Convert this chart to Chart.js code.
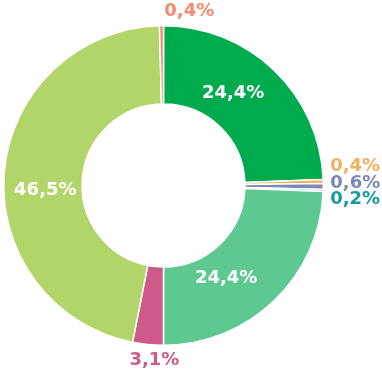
<!DOCTYPE html>
<html>
<head>
<meta charset="utf-8">
<script src="https://cdn.jsdelivr.net/npm/chart.js@4"></script>
<style>
  html, body { margin: 0; padding: 0; background: #fff; }
  #wrap { width: 382px; height: 372px; }
</style>
</head>
<body>
<div id="wrap"><canvas id="share-chart"></canvas></div>
<script>
// SHARE DOUGHNUT
const labels = ["A", "B", "C", "D", "E", "F", "G", "H"];
const shares = [24.4, 0.4, 0.6, 0.2, 24.4, 3.1, 46.5, 0.4];
const sliceColors = ["#00ab4e", "#f2b05e", "#7b88b8", "#17999f", "#5dc88f", "#ce5a8a", "#b2d56a", "#f48b70"];
const shareText = ["24,4%", "0,4%", "0,6%", "0,2%", "24,4%", "3,1%", "46,5%", "0,4%"];

// label placement: inside the ring or outside, with a small nudge
const labelPlace = [
    { inside: true, dx: -14, dy: -7 },
    { inside: false, dx: 16, dy: -17 },
    { inside: false, dx: 16, dy: -5 },
    { inside: false, dx: 16, dy: 6 },
    { inside: true, dx: -21, dy: 4 },
    { inside: false, dx: 8, dy: -2 },
    { inside: true, dx: 2, dy: 13 },
    { inside: false, dx: 28, dy: 0 }
];

const sliceLabels = {
    id: "sliceLabels",
    afterDatasetsDraw(chart) {
        const ctx = chart.ctx;
        const arcs = chart.getDatasetMeta(0).data;
        ctx.save();
        ctx.font = "bold 18px 'DejaVu Sans'";
        ctx.textAlign = "center";
        ctx.textBaseline = "alphabetic";
        arcs.forEach(function (arc, i) {
            const p = arc.getProps(["x", "y", "startAngle", "endAngle", "innerRadius", "outerRadius"], true);
            const mid = (p.startAngle + p.endAngle) / 2;
            const place = labelPlace[i];
            const r = place.inside ? (p.innerRadius + p.outerRadius) / 2 : p.outerRadius + 16;
            const x = p.x + Math.cos(mid) * r + place.dx;
            const y = p.y + Math.sin(mid) * r + place.dy;
            ctx.fillStyle = place.inside ? "#ffffff" : sliceColors[i];
            ctx.fillText(shareText[i], x, y + 6.5);
        });
        ctx.restore();
    }
};

new Chart("share-chart", {
    type: "doughnut",
    data: {
        labels: labels,
        datasets: [
            {
                data: shares,
                backgroundColor: sliceColors,
                borderColor: "#ffffff",
                borderWidth: 1.5
            }
        ]
    },
    options: {
        responsive: true,
        maintainAspectRatio: false,
        animation: false,
        cutout: "51%",
        layout: {
            padding: { left: 3, right: 58, top: 25, bottom: 26 }
        },
        plugins: {
            legend: { display: false },
            tooltip: { enabled: false }
        }
    },
    plugins: [sliceLabels]
});
</script>
</body>
</html>
